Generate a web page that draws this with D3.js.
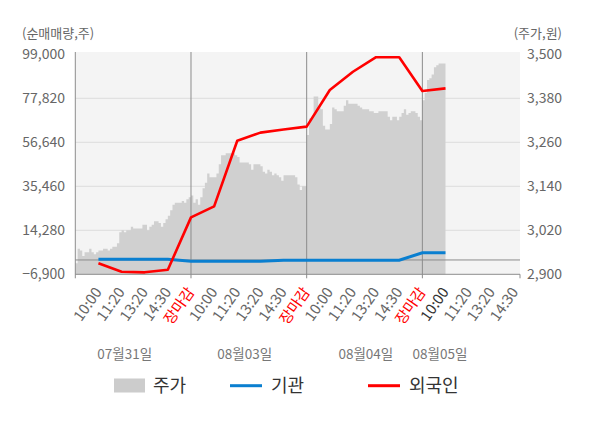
<!DOCTYPE html>
<html><head><meta charset="utf-8">
<script src="https://cdn.jsdelivr.net/npm/d3@7"></script>
<style>
html,body{margin:0;padding:0;background:#fff;}
svg{display:block;font-family:"Noto Sans CJK KR","Noto Sans",sans-serif;}
</style></head>
<body><svg id="c" width="600" height="428"></svg>
<script>
// ---- data ----
const days = ["07월31일", "08월03일", "08월04일", "08월05일"];
const tickLabels = ["10:00","11:20","13:20","14:30","장마감","10:00","11:20","13:20","14:30","장마감","10:00","11:20","13:20","14:30","장마감","10:00","11:20","13:20","14:30"];
const leftTicks = [-6900, 14280, 35460, 56640, 77820, 99000];
const rightTicks = [2900, 3020, 3140, 3260, 3380, 3500];
// 외국인 / 기관 net volume at ticks 1..16
const foreignNet = [-1600, -5650, -5950, -4700, 20500, 25800, 57400, 61300, 62800, 64200, 81800, 90600, 97600, 97600, 81300, 82600];
const instNet = [400, 400, 400, 400, -600, -600, -600, -600, -100, -100, -100, -100, -100, -100, 3450, 3450];
// 주가 (price) samples, 10 per time slot
const price0731 = [2930,2970,2965,2950,2960,2960,2970,2960,2955,2960,2965,2965,2970,2970,2965,2970,2975,2975,2985,3015,3020,3015,3020,3020,3030,3025,3025,3025,3025,3035,3035,3020,3030,3035,3045,3045,3040,3030,3040,3050,3060,3075,3090,3095,3095,3095,3100,3095,3105,3110];
const price0803 = [3115,3095,3105,3090,3110,3135,3150,3175,3165,3165,3165,3175,3200,3225,3225,3230,3230,3230,3230,3225,3220,3205,3205,3205,3205,3200,3185,3200,3200,3200,3195,3180,3175,3185,3180,3170,3175,3170,3165,3155,3170,3170,3170,3170,3170,3165,3145,3130,3140,3140];
const price0804 = [3280,3325,3330,3385,3385,3355,3350,3305,3295,3295,3310,3355,3350,3345,3345,3345,3360,3375,3365,3365,3365,3365,3360,3355,3350,3350,3350,3345,3345,3340,3340,3345,3345,3345,3345,3330,3320,3330,3330,3320,3330,3340,3350,3335,3340,3345,3345,3340,3330,3320];
const price0805 = [3375,3395,3430,3435,3445,3465,3470,3475,3475,3475];

// ---- layout ----
const svg = d3.select("#c");
const L = 75.3, R = 520, T = 54.3, B = 274.3;
const x = d3.scaleLinear().domain([0, 19.22]).range([L, R]);
const yL = d3.scaleLinear().domain([-6900, 99000]).range([B, T]);
const yR = d3.scaleLinear().domain([2900, 3500]).range([B, T]);
const grey = "#666";

svg.append("rect").attr("x", L).attr("y", 52).attr("width", R - L).attr("height", B - 52).attr("fill", "#f4f4f4");

// grid
svg.append("g").selectAll("line").data(leftTicks.slice(1, 5)).join("line")
  .attr("x1", L).attr("x2", R).attr("y1", d => yL(d)).attr("y2", d => yL(d))
  .attr("stroke", "#dcdcdc").attr("stroke-width", 1);

// price area
const priceDays = [price0731, price0803, price0804, price0805];
const pts = [];
priceDays.forEach((arr, di) => arr.forEach((v, j) => pts.push([di * 5 + j * 0.1, v])));
const lastPt = pts[pts.length - 1];
pts.push([lastPt[0] + 0.1, lastPt[1]]);
svg.append("path").datum(pts)
  .attr("d", d3.area().x(d => x(d[0])).y0(B).y1(d => yR(d[1])).curve(d3.curveStepAfter))
  .attr("fill", "#d0d0d0");

// zero line
svg.append("line").attr("x1", L).attr("x2", R).attr("y1", yL(0)).attr("y2", yL(0))
  .attr("stroke", "#8c8c8c").attr("stroke-width", 1);

// day dividers + axes
[0, 5, 10, 15].forEach(k => {
  svg.append("line").attr("x1", x(k)).attr("x2", x(k)).attr("y1", 52).attr("y2", B + 4)
    .attr("stroke", "#8c8c8c").attr("stroke-width", 1);
});
svg.append("line").attr("x1", L).attr("x2", R).attr("y1", B).attr("y2", B).attr("stroke", "#8c8c8c");
svg.append("line").attr("x1", R).attr("x2", R).attr("y1", B).attr("y2", B + 4).attr("stroke", "#8c8c8c");

// lines
const ln = d3.line().x((d, i) => x(i + 1)).y(d => yL(d));
svg.append("path").datum(instNet).attr("d", ln).attr("fill", "none")
  .attr("stroke", "#0a7fd0").attr("stroke-width", 3);
svg.append("path").datum(foreignNet).attr("d", ln).attr("fill", "none")
  .attr("stroke", "#ff0000").attr("stroke-width", 2.6).attr("stroke-linejoin", "round");

// y axis labels
svg.append("g").selectAll("text").data(leftTicks).join("text")
  .attr("x", 65).attr("y", d => yL(d) + 5).attr("text-anchor", "end")
  .attr("font-size", 14).attr("fill", grey).text(d => d3.format(",")(d));
svg.append("g").selectAll("text").data(rightTicks).join("text")
  .attr("x", 527).attr("y", d => yR(d) + 5).attr("text-anchor", "start")
  .attr("font-size", 14).attr("fill", grey).text(d => d3.format(",")(d));
svg.append("text").attr("x", 22).attr("y", 38).attr("font-size", 13).attr("fill", grey).text("(순매매량,주)");
svg.append("text").attr("x", 562).attr("y", 38).attr("text-anchor", "end").attr("font-size", 13).attr("fill", grey).text("(주가,원)");

// x tick labels
svg.append("g").selectAll("text").data(tickLabels).join("text")
  .attr("transform", (d, i) => `translate(${x(i + 1) + 4},292) rotate(-55)`)
  .attr("text-anchor", "end").attr("font-size", 14.8)
  .attr("fill", (d, i) => d === "장마감" ? "#ff0000" : (i === 15 ? "#333" : grey))
  .text(d => d);

// date labels
const dateX = [124.7, 244.7, 365.8, 440];
svg.append("g").selectAll("text").data(days).join("text")
  .attr("x", (d, i) => dateX[i]).attr("y", 358.5).attr("text-anchor", "middle")
  .attr("font-size", 13.5).attr("fill", "#777").text(d => d);

// legend
const lg = svg.append("g");
lg.append("rect").attr("x", 114).attr("y", 378.5).attr("width", 31).attr("height", 14).attr("fill", "#cccccc");
lg.append("text").attr("x", 153).attr("y", 392).attr("font-size", 18).attr("fill", "#333").text("주가");
lg.append("line").attr("x1", 230).attr("x2", 262).attr("y1", 385.7).attr("y2", 385.7).attr("stroke", "#0a7fd0").attr("stroke-width", 3);
lg.append("text").attr("x", 271).attr("y", 392).attr("font-size", 18).attr("fill", "#333").text("기관");
lg.append("line").attr("x1", 368).attr("x2", 400).attr("y1", 385.7).attr("y2", 385.7).attr("stroke", "#ff0000").attr("stroke-width", 3);
lg.append("text").attr("x", 409).attr("y", 392).attr("font-size", 18).attr("fill", "#333").text("외국인");
</script></body></html>
